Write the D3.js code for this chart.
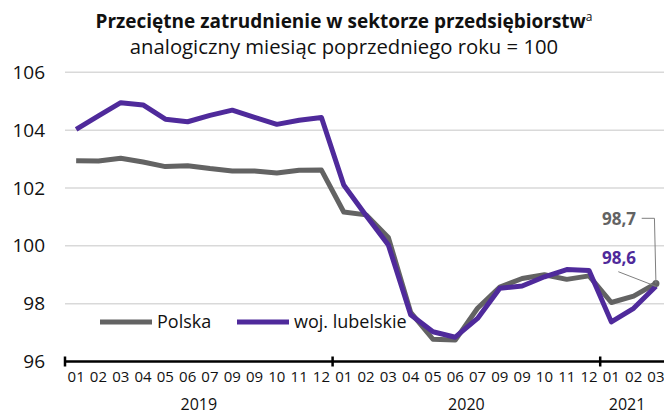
<!DOCTYPE html>
<html>
<head>
<meta charset="utf-8">
<script src="https://cdn.jsdelivr.net/npm/d3@7"></script>
<style>
  body { margin: 0; background: #fff; }
  svg { display: block; font-family: "Open Sans", Roboto, sans-serif; }
</style>
</head>
<body>
<svg id="chart" width="664" height="419"></svg>
<script>
// ---- data ----
const monthLabels = ["01","02","03","04","05","06","07","09","09","10","11","12",
                     "01","02","03","04","05","06","07","09","09","10","11","12",
                     "01","02","03"];
const years = [{label: "2019", from: 0, to: 11}, {label: "2020", from: 12, to: 23}, {label: "2021", from: 24, to: 26}];
const polska = [102.94, 102.93, 103.03, 102.9, 102.74, 102.77, 102.67, 102.59, 102.59, 102.52, 102.61, 102.62,
                101.17, 101.07, 100.29, 97.7, 96.77, 96.74, 97.84, 98.57, 98.87, 99.0, 98.84, 98.96,
                98.04, 98.26, 98.7];
const lubelskie = [104.03, 104.49, 104.95, 104.87, 104.38, 104.29, 104.51, 104.69, 104.44, 104.2, 104.34, 104.44,
                   102.1, 101.05, 100.03, 97.62, 97.03, 96.84, 97.49, 98.53, 98.61, 98.93, 99.18, 99.15,
                   97.37, 97.84, 98.6];
const yTicks = [96, 98, 100, 102, 104, 106];
const seriesNames = ["Polska", "woj. lubelskie"];
const lastLabels = ["98,7", "98,6"];
const titleText = "Przeciętne zatrudnienie w sektorze przedsiębiorstw";
const titleSup = "a";
const subtitleText = "analogiczny miesiąc poprzedniego roku = 100";

// ---- layout ----
const W = 664, H = 419;
const colors = ["#636363", "#4f2a9b"];
const svg = d3.select("#chart");
const idx = d3.range(monthLabels.length);

const x = d3.scaleBand().domain(idx).range([65, 65 + 27 * 22.3]).padding(0);
const y = d3.scaleLinear().domain([96, 106]).range([361.5, 72.3]);
const cx = i => x(i) + x.bandwidth() / 2;

// title
const t = svg.append("text").attr("x", 344).attr("y", 28).attr("text-anchor", "middle")
  .attr("font-size", 19).attr("font-weight", "bold").attr("fill", "#111");
t.append("tspan").text(titleText);
t.append("tspan").attr("font-size", 12).attr("font-weight", "normal").attr("dy", -7).text(titleSup);
svg.append("text").attr("x", 344).attr("y", 54).attr("text-anchor", "middle")
  .attr("font-size", 20.3).attr("fill", "#111").text(subtitleText);

// gridlines
svg.append("g").selectAll("line").data(yTicks.filter(d => d > 96)).join("line")
  .attr("x1", 65).attr("x2", W).attr("y1", d => y(d)).attr("y2", d => y(d))
  .attr("stroke", "#d9d9d9").attr("stroke-width", 1.5);

// y labels
svg.append("g").selectAll("text").data(yTicks).join("text")
  .attr("x", 45).attr("y", d => y(d)).attr("dy", "0.35em").attr("text-anchor", "end")
  .attr("font-size", 19).attr("fill", "#111").text(d => d);

// x axis
const xAxis = d3.axisBottom(x).tickSize(0).tickFormat(i => monthLabels[i]);
const gx = svg.append("g").attr("transform", `translate(0,${y(96)})`).call(xAxis);
gx.select(".domain").remove();
gx.selectAll("text").attr("font-size", 15).attr("fill", "#111").attr("font-family", "Open Sans").attr("dy", 0).attr("y", 20.5);
svg.append("line").attr("x1", 65).attr("x2", W).attr("y1", y(96)).attr("y2", y(96))
  .attr("stroke", "#000").attr("stroke-width", 2.5);
svg.append("g").selectAll("line").data([0, 12, 24]).join("line")
  .attr("x1", i => x(i)).attr("x2", i => x(i)).attr("y1", y(96) - 5).attr("y2", y(96) + 5)
  .attr("stroke", "#000").attr("stroke-width", 2.5);

// year labels
svg.append("g").selectAll("text").data(years).join("text")
  .attr("x", d => (x(d.from) + Math.min(x(d.to) + x.bandwidth(), W - 10)) / 2)
  .attr("y", 410).attr("text-anchor", "middle").attr("font-size", 16).attr("fill", "#111")
  .text(d => d.label);

// lines
const line = d3.line().x((d, i) => cx(i)).y(d => y(d));
[polska, lubelskie].forEach((s, k) => {
  svg.append("path").datum(s).attr("d", line).attr("fill", "none")
    .attr("stroke", colors[k]).attr("stroke-width", 5).attr("stroke-linejoin", "round");
});
const last = monthLabels.length - 1;
svg.append("circle").attr("cx", cx(last)).attr("cy", y(polska[last])).attr("r", 3.5).attr("fill", colors[0]);

// annotations
svg.append("path").attr("d", `M641.7,218.3H${cx(last) - 1.5}L${cx(last)},${y(polska[last])}`)
  .attr("fill", "none").attr("stroke", "#7f7f7f").attr("stroke-width", 1);
svg.append("line").attr("x1", 618.3).attr("y1", 271.7).attr("x2", cx(last)).attr("y2", y(lubelskie[last]))
  .attr("stroke", "#7f7f7f").attr("stroke-width", 1);
svg.append("text").attr("x", 636).attr("y", 225).attr("text-anchor", "end").attr("font-size", 17)
  .attr("font-weight", "bold").attr("fill", colors[0]).text(lastLabels[0]);
svg.append("text").attr("x", 636).attr("y", 264).attr("text-anchor", "end").attr("font-size", 17)
  .attr("font-weight", "bold").attr("fill", colors[1]).text(lastLabels[1]);

// legend
const lg = svg.append("g");
const legendX = [100, 237];
seriesNames.forEach((n, k) => {
  lg.append("line").attr("x1", legendX[k]).attr("x2", legendX[k] + 52).attr("y1", 322).attr("y2", 322)
    .attr("stroke", colors[k]).attr("stroke-width", 5);
  lg.append("text").attr("x", legendX[k] + 57).attr("y", 322).attr("dy", "0.35em")
    .attr("font-size", 18).attr("fill", "#111").text(n);
});
</script>
</body>
</html>
